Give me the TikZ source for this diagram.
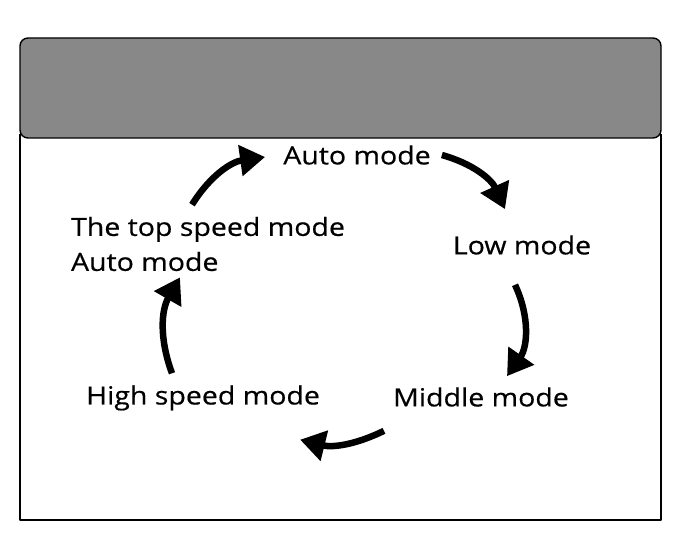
\documentclass[tikz,border=0pt]{standalone}
\usepackage{fontspec}
\setmainfont{Open Sans}[FakeStretch=1.14, FakeBold=0.5]
\usetikzlibrary{arrows.meta,positioning}
\definecolor{headgray}{RGB}{136,136,136}
\begin{document}
\begin{tikzpicture}[x=1pt, y=1pt, line join=round,
	mode/.style={inner sep=0pt, font=\fontsize{25}{35}\selectfont},
	modearrow/.style={line width=6.5pt, -{Triangle[length=25pt,width=30pt]}}]
	\useasboundingbox (0,0) rectangle (673,550);
	\draw[line width=1.4pt, fill=headgray, rounded corners=8pt] (20,412) rectangle (661,512);
	\draw[line width=1.4pt] (20,416)--(20,30)--(661,30)--(661,416);
	\node[mode] (auto) at (357,395) {Auto mode};
	\node[mode] (low) at (522,305) {Low mode};
	\node[mode] (middle) at (481,153) {Middle mode};
	\node[mode] (high) at (203,152) {High speed mode};
	\node[mode, align=left] (top) at (208,306) {The top speed mode\\Auto mode};
	\draw[modearrow] ([shift={(-16,12)}]top.north) to[bend left=25] ([shift={(-18,-2)}]auto.west);
	\draw[modearrow] ([shift={(11,0)}]auto.east) to[bend left=25] ([shift={(-17,26)}]low.north);
	\draw[modearrow] ([shift={(-7,-30)}]low.south) to[bend left=30] ([shift={(26,11)}]middle.north);
	\draw[modearrow] ([shift={(-9,-24)}]middle.south west) to[bend left=20] ([shift={(-20,-29)}]high.south east);
	\draw[modearrow] ([shift={(-31,12)}]high.north) to[bend left=25] ([shift={(-28,-6)}]top.south);
\end{tikzpicture}
\end{document}
